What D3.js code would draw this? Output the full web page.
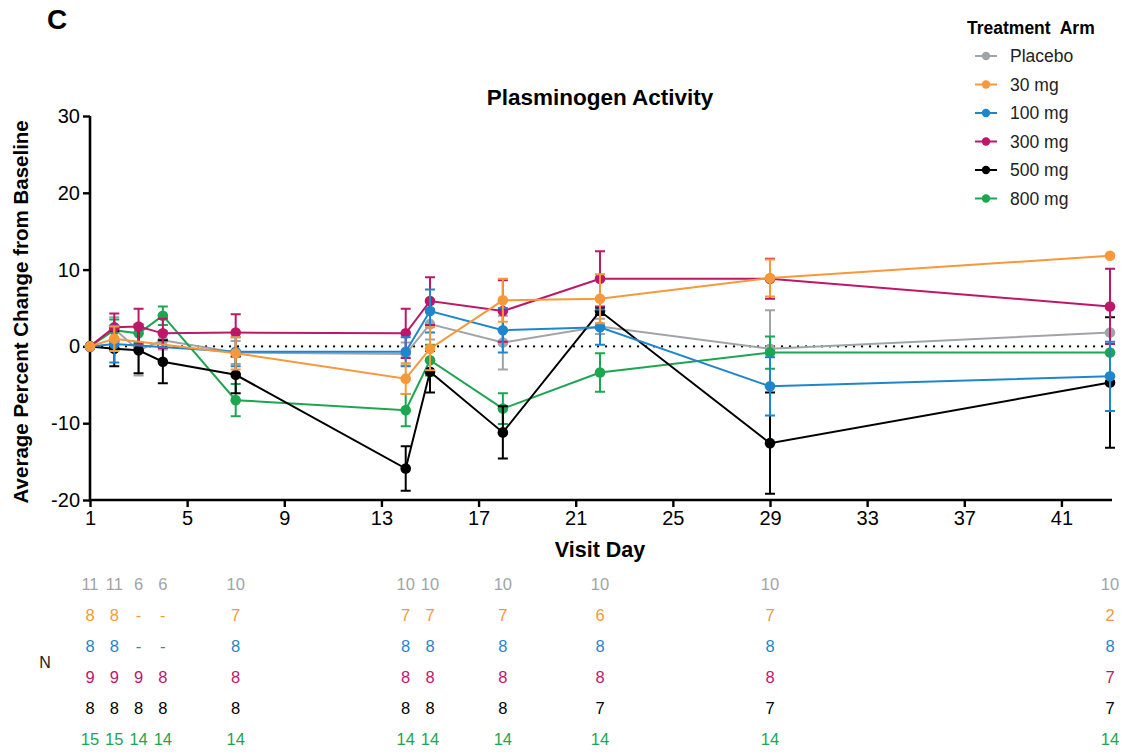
<!DOCTYPE html>
<html>
<head>
<meta charset="utf-8">
<script src="https://cdn.jsdelivr.net/npm/d3@7"></script>
<style>
  body { margin: 0; background: #fff; }
  svg { font-family: "Liberation Sans", Arial, sans-serif; }
</style>
</head>
<body>
<script>
// Visit days and per-arm mean / SE (percent change from baseline)
const days = [1, 2, 3, 4, 7, 14, 15, 18, 22, 29, 43];
const arms = ["Placebo", "30 mg", "100 mg", "300 mg", "500 mg", "800 mg"];
const colors = ["#a0a4a8", "#f7983a", "#1f86cb", "#be1769", "#000000", "#1ca650"];

// null = no data at that visit
const placeboMean = [0, 2.3, -0.5, 0.8, -0.8, -1.0, 2.9, 0.5, 2.6, -0.3, 1.8];
const placeboErr  = [0, 1.5, 3.3, 1.2, 1.5, 1.5, 2.0, 3.5, 1.0, 5.0, 0];
const mg30Mean = [0, 1.0, null, null, -0.9, -4.2, -0.3, 6.0, 6.2, 8.9, 11.8];
const mg30Err  = [0, 1.6, null, null, 2.1, 2.0, 2.8, 2.8, 3.2, 2.4, 0];
const mg100Mean = [0, 0.3, null, null, -0.7, -0.7, 4.6, 2.1, 2.5, -5.2, -3.9];
const mg100Err  = [0, 2.4, null, null, 1.9, 1.9, 2.8, 2.9, 2.3, 3.8, 4.5];
const mg300Mean = [0, 2.5, 2.6, 1.7, 1.8, 1.7, 5.9, 4.6, 8.8, 8.8, 5.2];
const mg300Err  = [0, 1.8, 2.3, 1.9, 2.4, 3.2, 3.1, 4.0, 3.6, 2.6, 4.9];
const mg500Mean = [0, -0.3, -0.5, -2.0, -3.7, -15.9, -3.3, -11.2, 4.6, -12.6, -4.7];
const mg500Err  = [0, 2.3, 3.0, 2.8, 2.4, 2.9, 2.7, 3.4, 0.5, 6.6, 8.5];
const mg800Mean = [0, 2.1, 1.7, 4.0, -7.0, -8.3, -1.8, -8.1, -3.4, -0.8, -0.8];
const mg800Err  = [0, 1.4, 1.2, 1.2, 2.1, 2.1, 2.0, 2.0, 2.5, 2.1, 0];

// N per arm per visit ("-" = not collected)
const placeboN = ["11", "11", "6", "6", "10", "10", "10", "10", "10", "10", "10"];
const mg30N    = ["8", "8", "-", "-", "7", "7", "7", "7", "6", "7", "2"];
const mg100N   = ["8", "8", "-", "-", "8", "8", "8", "8", "8", "8", "8"];
const mg300N   = ["9", "9", "9", "8", "8", "8", "8", "8", "8", "8", "7"];
const mg500N   = ["8", "8", "8", "8", "8", "8", "8", "8", "7", "7", "7"];
const mg800N   = ["15", "15", "14", "14", "14", "14", "14", "14", "14", "14", "14"];

const xTicks = [1, 5, 9, 13, 17, 21, 25, 29, 33, 37, 41];
const yTicks = [-20, -10, 0, 10, 20, 30];

const series = [
  {name: arms[0], color: colors[0], mean: placeboMean, err: placeboErr, n: placeboN},
  {name: arms[1], color: colors[1], mean: mg30Mean, err: mg30Err, n: mg30N},
  {name: arms[2], color: colors[2], mean: mg100Mean, err: mg100Err, n: mg100N},
  {name: arms[3], color: colors[3], mean: mg300Mean, err: mg300Err, n: mg300N},
  {name: arms[4], color: colors[4], mean: mg500Mean, err: mg500Err, n: mg500N},
  {name: arms[5], color: colors[5], mean: mg800Mean, err: mg800Err, n: mg800N},
];
// draw order (later = on top)
const drawOrder = [0, 5, 4, 3, 2, 1];

const width = 1128, height = 753;
const svg = d3.select("body").append("svg")
  .attr("width", width).attr("height", height)
  .attr("viewBox", [0, 0, width, height]);

const x = d3.scaleLinear().domain([1, 43]).range([90, 1110]);
const y = d3.scaleLinear().domain([-20, 30]).range([500, 116]);

// Panel letter & title
svg.append("text").attr("x", 47).attr("y", 29)
  .attr("font-size", 28).attr("font-weight", "bold").text("C");
svg.append("text").attr("x", 600).attr("y", 105)
  .attr("text-anchor", "middle").attr("font-size", 22.5).attr("font-weight", "bold")
  .text("Plasminogen Activity");

// Zero reference line
svg.append("line")
  .attr("x1", x(1) + 4).attr("x2", x(43) + 2)
  .attr("y1", y(0)).attr("y2", y(0))
  .attr("stroke", "#000").attr("stroke-width", 2.2)
  .attr("stroke-dasharray", "0.1,7.9").attr("stroke-linecap", "round");

// Axes
const xAxis = svg.append("g").attr("transform", `translate(0,${y(-20)})`)
  .call(d3.axisBottom(x).tickValues(xTicks).tickFormat(d => String(d))
    .tickSize(7).tickSizeOuter(0).tickPadding(4));
xAxis.select(".domain").attr("d", `M${x(1) - 1},0H${x(43) + 2}`);
const yAxis = svg.append("g").attr("transform", `translate(${x(1)},0)`)
  .call(d3.axisLeft(y).tickValues(yTicks).tickFormat(d => String(d))
    .tickSize(7).tickSizeOuter(0).tickPadding(3));
for (const ax of [xAxis, yAxis]) {
  ax.select(".domain").attr("stroke-width", 2.6);
  ax.selectAll(".tick line").attr("stroke-width", 2.4);
  ax.selectAll(".tick text").attr("font-size", 20).attr("fill", "#000")
    .attr("font-family", "Liberation Sans, Arial, sans-serif");
}
yAxis.select(".domain").attr("d", `M0,${y(30)}V${y(-20) + 1}`);

svg.append("text").attr("x", 600).attr("y", 557)
  .attr("text-anchor", "middle").attr("font-size", 21.5).attr("font-weight", "bold")
  .text("Visit Day");
svg.append("text").attr("transform", `translate(28,${y(4.5)}) rotate(-90)`)
  .attr("text-anchor", "middle").attr("font-size", 20.5).attr("font-weight", "bold")
  .text("Average Percent Change from Baseline");

// Series
const line = d3.line().defined(d => d.m !== null).x(d => x(d.day)).y(d => y(d.m));
for (const i of drawOrder) {
  const s = series[i];
  const pts = days.map((day, k) => ({day, m: s.mean[k], e: s.err[k]}));
  const valid = pts.filter(p => p.m !== null);
  const g = svg.append("g");
  g.append("path").datum(valid)
    .attr("d", line).attr("fill", "none")
    .attr("stroke", s.color).attr("stroke-width", 2);
  for (const p of valid) {
    if (p.e > 0) {
      g.append("path")
        .attr("d", `M${x(p.day)},${y(p.m + p.e)}V${y(p.m - p.e)}` +
          `M${x(p.day) - 5},${y(p.m + p.e)}h10M${x(p.day) - 5},${y(p.m - p.e)}h10`)
        .attr("stroke", s.color).attr("stroke-width", 2).attr("fill", "none");
    }
    g.append("circle").attr("cx", x(p.day)).attr("cy", y(p.m)).attr("r", 5.3)
      .attr("fill", s.color);
  }
}

// Legend
const lg = svg.append("g");
lg.append("text").attr("x", 967).attr("y", 34)
  .attr("font-size", 17.5).attr("font-weight", "bold")
  .attr("xml:space", "preserve").text("Treatment  Arm");
series.forEach((s, i) => {
  const ly = 56 + i * 28.5;
  lg.append("line").attr("x1", 975).attr("x2", 997).attr("y1", ly).attr("y2", ly)
    .attr("stroke", s.color).attr("stroke-width", 2);
  lg.append("circle").attr("cx", 986).attr("cy", ly).attr("r", 4.2).attr("fill", s.color);
  lg.append("text").attr("x", 1010).attr("y", ly + 6)
    .attr("font-size", 17.5).attr("fill", "#222").text(s.name);
});

// N table
svg.append("text").attr("x", 45).attr("y", 668)
  .attr("text-anchor", "middle").attr("font-size", 16).attr("fill", "#222").text("N");
series.forEach((s, i) => {
  const ty = 590 + i * 31;
  s.n.forEach((v, k) => {
    svg.append("text").attr("x", x(days[k])).attr("y", ty)
      .attr("text-anchor", "middle").attr("font-size", 16.5)
      .attr("fill", s.color).text(v);
  });
});
</script>
</body>
</html>
